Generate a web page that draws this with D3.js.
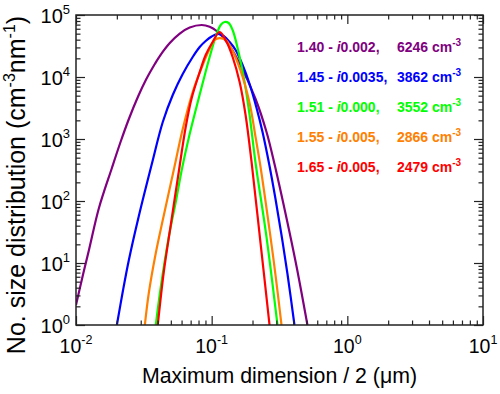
<!DOCTYPE html>
<html>
<head>
<meta charset="utf-8">
<title>Size distribution</title>
<script src="https://cdn.jsdelivr.net/npm/d3@7"></script>
<style>
  body { margin: 0; background: #fff; }
  text { font-family: "Liberation Sans", Arial, sans-serif; fill: #000; }
</style>
</head>
<body>
<script>

// values: radius (um) and number size distribution (cm-3 nm-1)
var size140 = [0.0100, 0.01107, 0.01246, 0.01476, 0.01839, 0.02142, 0.02453, 0.02857, 0.03271, 0.03810, 0.04146, 0.04912, 0.05816, 0.06888, 0.08444, 0.09667, 0.1088, 0.1311, 0.1607, 0.2106, 0.2537, 0.2905, 0.3560, 0.4217, 0.5081];
var dist140 = [2.10, 5.52, 16.2, 77.1, 341, 928, 2102, 4758, 8946, 16210, 21810, 35350, 50300, 62860, 68990, 64750, 55200, 35350, 16510, 4418, 1297, 395, 53.2, 8.95, 1];

var size145 = [0.02001, 0.02216, 0.02453, 0.02905, 0.03621, 0.04362, 0.05166, 0.06119, 0.07248, 0.08162, 0.09035, 0.1000, 0.1107, 0.1225, 0.1357, 0.1501, 0.1690, 0.1903, 0.2142, 0.2371, 0.2670, 0.2955, 0.3271, 0.3621, 0.4076];
var dist145 = [1, 3.53, 11.18, 57.3, 395, 1880, 5125, 11180, 21020, 30470, 38070, 45000, 49380, 45850, 36690, 27260, 15610, 7711, 3162, 1297, 367, 107.7, 28.3, 6.65, 1];

var size151 = [0.03875, 0.04217, 0.04830, 0.05436, 0.06016, 0.06776, 0.07627, 0.08587, 0.09667, 0.1070, 0.1165, 0.1246, 0.1334, 0.1427, 0.1553, 0.1748, 0.1903, 0.2106, 0.2537, 0.3056];
var dist151 = [1, 4.1, 26.2, 96, 316, 1040, 2940, 8000, 21000, 44200, 69000, 77100, 74300, 57300, 29400, 8300, 2440, 410, 26.2, 1];

var size155 = [0.03217, 0.03441, 0.03875, 0.04362, 0.05255, 0.06119, 0.07248, 0.08587, 0.09504, 0.1052, 0.1145, 0.1267, 0.1379, 0.1607, 0.1903, 0.2106, 0.2292, 0.2670, 0.2955, 0.3271];
var dist155 = [1, 3.28, 14.5, 49.4, 316, 1450, 5730, 15600, 26270, 39600, 42500, 39600, 30500, 14000, 3810, 1077, 354, 34.1, 6.4, 1];

var size165 = [0.04007, 0.04436, 0.04994, 0.05719, 0.06438, 0.07127, 0.08162, 0.09035, 0.1017, 0.1145, 0.1289, 0.1427, 0.1607, 0.1778, 0.1968, 0.2292, 0.2670];
var dist165 = [1, 7.16, 41.0, 294, 1561, 4585, 12000, 22630, 36700, 53200, 36700, 21000, 8300, 2440, 426, 21, 1];

// legend pieces
var realPart = ["1.40", "1.45", "1.51", "1.55", "1.65"];
var imagPart = ["0.002", "0.0035", "0.000", "0.005", "0.005"];
var numConc  = ["6246", "3862", "3552", "2866", "2479"];
var colours  = ["#800080", "#0000ff", "#00ff00", "#ff8000", "#ff0000"];

var xTickExp = [-2, -1, 0, 1];
var yTickExp = [0, 1, 2, 3, 4, 5];

var series = [
  {x: size140, y: dist140, c: colours[0]},
  {x: size145, y: dist145, c: colours[1]},
  {x: size151, y: dist151, c: colours[2]},
  {x: size155, y: dist155, c: colours[3]},
  {x: size165, y: dist165, c: colours[4]}
];

var margin = {top: 15, right: 17, bottom: 69, left: 76};
var width = 500 - margin.left - margin.right;
var height = 394 - margin.top - margin.bottom;

var svg = d3.select("body").append("svg")
    .attr("width", 500)
    .attr("height", 394);

var g = svg.append("g")
    .attr("transform", "translate(" + margin.left + "," + margin.top + ")");

var x = d3.scaleLog().domain([0.01, 10]).range([0, width]);
var y = d3.scaleLog().domain([1, 1e5]).range([height, 0]);

var xMajor = xTickExp.map(function(e) { return Math.pow(10, e); });
var yMajor = yTickExp.map(function(e) { return Math.pow(10, e); });
var xMinor = x.ticks().filter(function(t) { return xMajor.indexOf(t) < 0; });
var yMinor = y.ticks().filter(function(t) { return yMajor.indexOf(t) < 0; });

// curves
g.append("clipPath").attr("id", "clip")
  .append("rect").attr("width", width).attr("height", height);

var line = d3.line()
    .x(function(d) { return x(d[0]); })
    .y(function(d) { return y(d[1]); })
    .curve(d3.curveCatmullRom.alpha(0.5));

g.append("g").attr("clip-path", "url(#clip)")
  .selectAll("path")
  .data(series)
  .enter().append("path")
    .attr("d", function(s) { return line(d3.zip(s.x, s.y)); })
    .attr("fill", "none")
    .attr("stroke", function(s) { return s.c; })
    .attr("stroke-width", 2.2);

// ticks pointing inwards on all four sides
function ticks(axis, vals, len, transform) {
  var a = g.append("g")
    .attr("transform", transform)
    .call(axis.tickValues(vals).tickSize(-len).tickFormat(""));
  a.select(".domain").remove();
  a.selectAll("line").attr("stroke", "#222").attr("stroke-width", 1.2);
}
ticks(d3.axisBottom(x), xMajor, 9, "translate(0," + height + ")");
ticks(d3.axisBottom(x), xMinor, 4.5, "translate(0," + height + ")");
ticks(d3.axisTop(x), xMajor, 9, null);
ticks(d3.axisTop(x), xMinor, 4.5, null);
ticks(d3.axisLeft(y), yMajor, 9, null);
ticks(d3.axisLeft(y), yMinor, 4.5, null);
ticks(d3.axisRight(y), yMajor, 9, "translate(" + width + ",0)");
ticks(d3.axisRight(y), yMinor, 4.5, "translate(" + width + ",0)");

g.append("rect")
  .attr("width", width).attr("height", height)
  .attr("fill", "none").attr("stroke", "#222").attr("stroke-width", 1.5);

// tick labels 10^n
var xl = g.append("g").selectAll("text").data(xTickExp).enter().append("text")
    .attr("x", function(e) { return x(Math.pow(10, e)); })
    .attr("y", height + 28)
    .attr("text-anchor", "middle")
    .style("font-size", "19.5px");
xl.append("tspan").text("10");
xl.append("tspan").attr("dy", -9).style("font-size", "12.5px").text(function(e) { return e; });

var yl = g.append("g").selectAll("text").data(yTickExp).enter().append("text")
    .attr("x", -6)
    .attr("y", function(e) { return y(Math.pow(10, e)) + 8; })
    .attr("text-anchor", "end")
    .style("font-size", "20px");
yl.append("tspan").text("10");
yl.append("tspan").attr("dy", -9).style("font-size", "13px").text(function(e) { return e; });

// axis titles
g.append("text")
  .attr("x", width / 2)
  .attr("y", height + 58)
  .attr("text-anchor", "middle")
  .style("font-size", "21.3px")
  .text("Maximum dimension / 2 (\u03bcm)");

var yt = svg.append("text")
  .attr("transform", "translate(25,185) rotate(-90)")
  .attr("text-anchor", "middle")
  .style("font-size", "25px");
yt.append("tspan").text("No. size distribution (cm");
yt.append("tspan").attr("dy", -10).style("font-size", "16px").text("-3");
yt.append("tspan").attr("dy", 10).text("nm");
yt.append("tspan").attr("dy", -10).style("font-size", "16px").text("-1");
yt.append("tspan").attr("dy", 10).text(")");

// legend
var leg = svg.append("g").selectAll("g").data(realPart).enter().append("g")
    .attr("transform", function(d, i) { return "translate(0," + (52 + i * 30) + ")"; })
    .style("font-size", "14px")
    .style("font-weight", "bold");

var t1 = leg.append("text").attr("x", 297).style("fill", function(d, i) { return colours[i]; });
t1.append("tspan").text(function(d) { return d + " - "; });
t1.append("tspan").style("font-style", "italic").text("i");
t1.append("tspan").text(function(d, i) { return imagPart[i] + ","; });

var t2 = leg.append("text").attr("x", 397).style("fill", function(d, i) { return colours[i]; });
t2.append("tspan").text(function(d, i) { return numConc[i] + " cm"; });
t2.append("tspan").attr("dy", -6).style("font-size", "10px").text("-3");

</script>
</body>
</html>
